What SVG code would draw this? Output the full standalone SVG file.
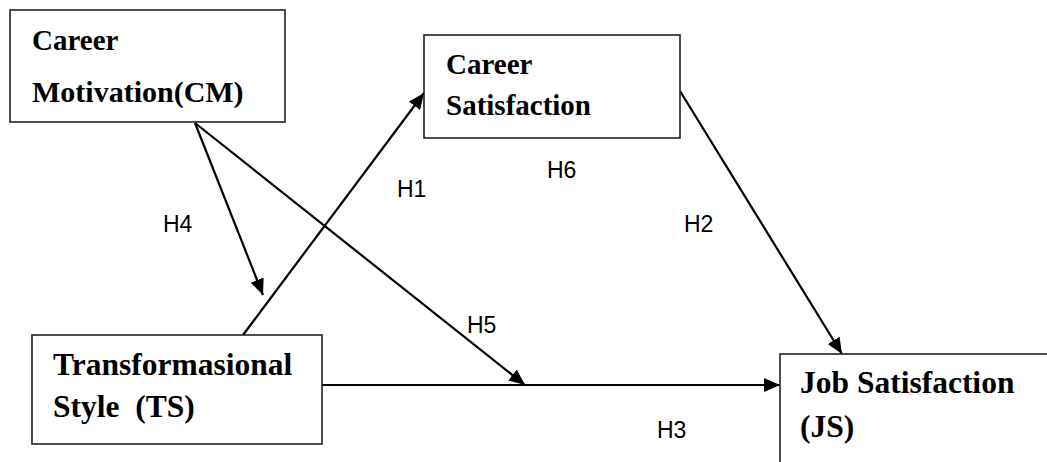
<svg xmlns="http://www.w3.org/2000/svg" width="1047" height="462" viewBox="0 0 1047 462">
  <style>
    .box { fill: #fff; stroke: #222; stroke-width: 1.6; }
    .node { font-family: "Liberation Serif", "Times New Roman", serif; font-weight: bold; fill: #000; }
    .lbl { font-family: "Liberation Sans", Arial, sans-serif; font-size: 23px; fill: #000; }
    .conn { stroke: #000; stroke-width: 2.2; fill: none; }
  </style>
  <defs>
    <marker id="arr" markerUnits="userSpaceOnUse" markerWidth="18" markerHeight="14" refX="16" refY="7" orient="auto">
      <path d="M0,0 L16,7 L0,14 Z" fill="#000"/>
    </marker>
  </defs>
  <rect width="1047" height="462" fill="#fff"/>

  <g id="connectors">
    <line class="conn" x1="195" y1="123" x2="263" y2="295" marker-end="url(#arr)"/>
    <line class="conn" x1="195" y1="123" x2="525" y2="385" marker-end="url(#arr)"/>
    <line class="conn" x1="243" y1="335" x2="424" y2="93" marker-end="url(#arr)"/>
    <line class="conn" x1="680" y1="91" x2="842" y2="354" marker-end="url(#arr)"/>
    <line class="conn" x1="322" y1="385" x2="780" y2="385" marker-end="url(#arr)"/>
  </g>

  <g id="node-cm">
    <rect class="box" x="10" y="10" width="275" height="112"/>
    <text class="node" x="32" y="50" font-size="29">Career</text>
    <text class="node" x="32" y="102" font-size="30">Motivation(CM)</text>
  </g>

  <g id="node-cs">
    <rect class="box" x="424" y="35" width="256" height="103"/>
    <text class="node" x="446" y="74" font-size="29">Career</text>
    <text class="node" x="446" y="115" font-size="29">Satisfaction</text>
  </g>

  <g id="node-ts">
    <rect class="box" x="32" y="335" width="290" height="109" stroke="#444"/>
    <text class="node" x="53" y="375" font-size="31.5">Transformasional</text>
    <text class="node" x="53" y="417" font-size="31.5" xml:space="preserve">Style  (TS)</text>
  </g>

  <g id="node-js">
    <rect class="box" x="780" y="354" width="280" height="130"/>
    <text class="node" x="800" y="393" font-size="31.5">Job Satisfaction</text>
    <text class="node" x="800" y="437" font-size="31.5">(JS)</text>
  </g>

  <g id="labels">
    <text class="lbl" x="163" y="232">H4</text>
    <text class="lbl" x="397" y="197">H1</text>
    <text class="lbl" x="547" y="178">H6</text>
    <text class="lbl" x="684" y="232">H2</text>
    <text class="lbl" x="467" y="333">H5</text>
    <text class="lbl" x="657" y="438">H3</text>
  </g>
</svg>
